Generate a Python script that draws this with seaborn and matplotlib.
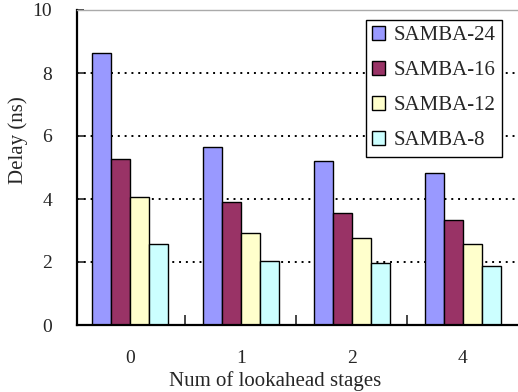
import matplotlib
matplotlib.use("Agg")
import matplotlib.pyplot as plt
import seaborn as sns
import pandas as pd
from matplotlib.ticker import FixedLocator

categories = ["0", "1", "2", "4"]
series_names = ["SAMBA-24", "SAMBA-16", "SAMBA-12", "SAMBA-8"]
samba24 = [8.62, 5.66, 5.21, 4.81]
samba16 = [5.28, 3.89, 3.55, 3.33]
samba12 = [4.07, 2.92, 2.77, 2.56]
samba8 = [2.56, 2.04, 1.97, 1.86]
colors = ["#9999FF", "#993366", "#FFFFCC", "#CCFFFF"]

rows = []
for name, vals in zip(series_names, [samba24, samba16, samba12, samba8]):
    for c, v in zip(categories, vals):
        rows.append({"stage": c, "series": name, "delay": v})
df = pd.DataFrame(rows)

sns.set_style("white")
plt.rcParams["font.family"] = ["Liberation Serif", "DejaVu Serif"]

fig = plt.figure(figsize=(5.18, 3.92), dpi=100)
W, H = 518, 392
ax = fig.add_axes([77 / W, (H - 325) / H, 441.5 / W, (325 - 10) / H])

sns.barplot(data=df, x="stage", y="delay", hue="series", order=categories,
            hue_order=series_names, palette=colors, edgecolor="black",
            linewidth=1.0, width=0.69, saturation=1, ax=ax, legend=True)

ax.set_xlim(-0.477, 3.5)
ax.set_ylim(0, 10)
ax.set_yticks([0, 2, 4, 6, 8, 10])
ax.set_yticklabels(["0", "2", "4", "6", "8", "10"], fontsize=14)
ax.set_xticks(range(len(categories)))
ax.set_xticklabels(categories, fontsize=14)
ax.xaxis.set_minor_locator(FixedLocator([0.5, 1.5, 2.5]))
ax.tick_params(axis="x", which="major", length=0, pad=18)
ax.tick_params(axis="x", which="minor", direction="in", length=7, width=1.2,
               bottom=True)
ax.tick_params(axis="y", which="major", direction="in", length=5, width=1.2,
               left=True, pad=18)

ax.yaxis.grid(True, linestyle=(0, (1, 2.5)), color="black", linewidth=1.4)
ax.set_axisbelow(True)
for gl, t in zip(ax.get_ygridlines(), [0, 2, 4, 6, 8, 10]):
    if t in (0, 10):
        gl.set_visible(False)

for s in ["left", "bottom"]:
    ax.spines[s].set_color("black")
    ax.spines[s].set_linewidth(1.6)
ax.spines["top"].set_color("#aaaaaa")
ax.spines["top"].set_linewidth(1.0)
ax.spines["right"].set_visible(False)

ax.set_xlabel("Num of lookahead stages", fontsize=15)
ax.set_ylabel("Delay (ns)", fontsize=15)
ax.xaxis.set_label_coords((275 - 77) / 441.5, -(381.5 - 325) / 315,
                          transform=ax.transAxes)
ax.xaxis.label.set_va("center")
ax.yaxis.set_label_coords(-(77 - 18) / 441.5, (325 - 140) / 315,
                          transform=ax.transAxes)
ax.yaxis.label.set_va("center")

handles, labels = ax.get_legend_handles_labels()
leg = ax.legend(handles, labels, loc="upper right",
                bbox_to_anchor=(502 / W, 1 - 20 / H), bbox_transform=fig.transFigure,
                borderaxespad=0, fontsize=15, frameon=True, fancybox=False,
                framealpha=1, edgecolor="black", handlelength=0.63,
                handleheight=0.63, handletextpad=0.4, labelspacing=0.76,
                borderpad=0.3)
leg.get_frame().set_linewidth(1.0)

fig.savefig("out.png", dpi=100)
